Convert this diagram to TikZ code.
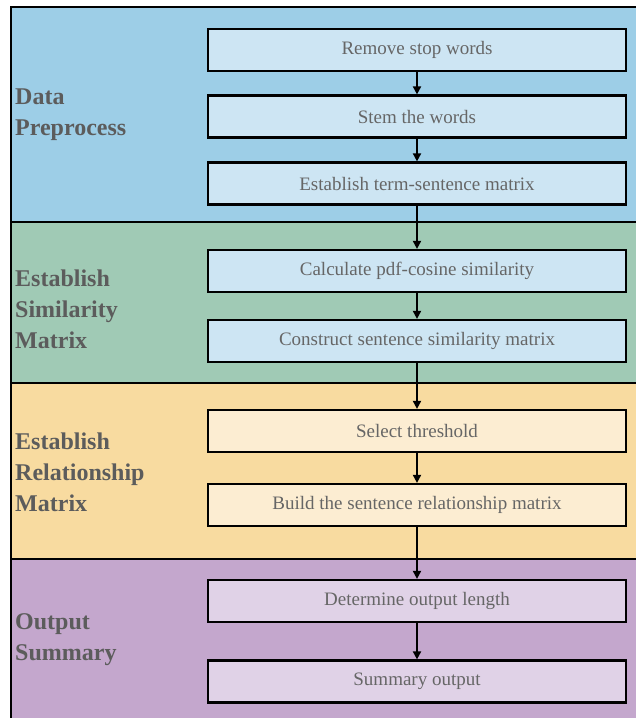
\documentclass[tikz,border=0pt]{standalone}
\usepackage{fontspec}
\setmainfont{Liberation Serif}
\usetikzlibrary{arrows.meta}
\definecolor{bandblue}{HTML}{9DCEE7}
\definecolor{bandgreen}{HTML}{A0CAB5}
\definecolor{bandyellow}{HTML}{F8DBA0}
\definecolor{bandpurple}{HTML}{C4A7CD}
\definecolor{boxblue}{HTML}{CDE5F3}
\definecolor{boxyellow}{HTML}{FCEDD2}
\definecolor{boxpurple}{HTML}{E0D2E7}
\definecolor{labelgray}{HTML}{5C5C5C}
\definecolor{textgray}{HTML}{666666}
\begin{document}
\begin{tikzpicture}[x=1pt,y=-1pt,
  stepbox/.style={draw=black, line width=2.2pt, minimum width=418pt, minimum height=42pt,
    inner sep=0pt, font=\fontsize{19}{22}\selectfont, text=textgray},
  bandlabel/.style={anchor=west, align=left, inner sep=0pt,
    font=\fontsize{24}{31}\selectfont\bfseries, text=labelgray},
  flow/.style={draw=black, line width=1.8pt, -{Triangle[width=8pt,length=8pt]}},
  sep/.style={draw=black, line width=2pt}]
\useasboundingbox (0,0) rectangle (636,718);
\fill[white] (0,0) rectangle (636,718);
% bands
\fill[bandblue] (11,7) rectangle (640,222);
\fill[bandgreen] (11,222) rectangle (640,383);
\fill[bandyellow] (11,383) rectangle (640,559);
\fill[bandpurple] (11,559) rectangle (640,722);
\draw[sep] (11,722) -- (11,7) -- (640,7);
\draw[sep] (11,222) -- (640,222);
\draw[sep] (11,383) -- (640,383);
\draw[sep] (11,559) -- (640,559);
% labels
\node[bandlabel] (l1) at (15,115) {Data\\Preprocess};
\node[bandlabel] (l2) at (15,309) {Establish\\Similarity\\Matrix};
\node[bandlabel] (l3) at (15,472) {Establish\\Relationship\\Matrix};
\node[bandlabel] (l4) at (15,640) {Output\\Summary};
% boxes
\node[stepbox, fill=boxblue] (b1) at (417,50) {Remove stop words};
\node[stepbox, fill=boxblue] (b2) at (417,116.5) {Stem the words};
\node[stepbox, fill=boxblue] (b3) at (417,183.5) {Establish term-sentence matrix};
\node[stepbox, fill=boxblue] (b4) at (417,271) {Calculate pdf-cosine similarity};
\node[stepbox, fill=boxblue] (b5) at (417,341) {Construct sentence similarity matrix};
\node[stepbox, fill=boxyellow] (b6) at (417,431) {Select threshold};
\node[stepbox, fill=boxyellow] (b7) at (417,505) {Build the sentence relationship matrix};
\node[stepbox, fill=boxpurple] (b8) at (417,601) {Determine output length};
\node[stepbox, fill=boxpurple] (b9) at (417,681.5) {Summary output};
% arrows
\foreach \a/\b in {b1/b2,b2/b3,b3/b4,b4/b5,b5/b6,b6/b7,b7/b8,b8/b9}
  \draw[flow] (\a.south) -- (\b.north);
\end{tikzpicture}
\end{document}
